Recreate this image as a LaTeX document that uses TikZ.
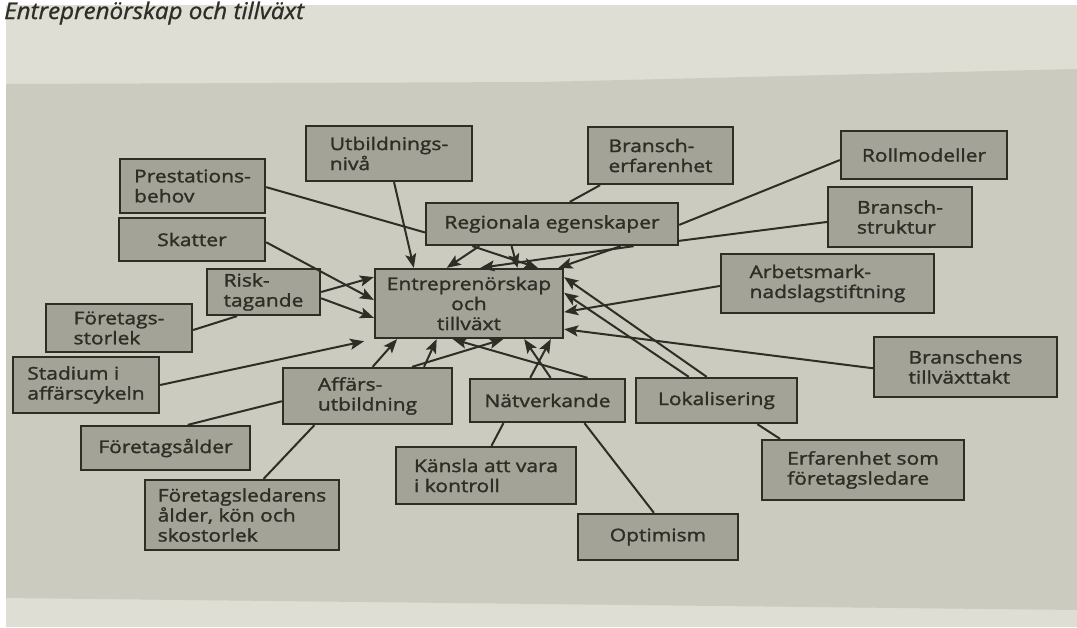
\documentclass[tikz,border=0pt]{standalone}
\usepackage{fontspec}
\setmainfont{Open Sans}
\newfontfamily\boxfont[FakeStretch=1.2,FakeBold=1.6]{Open Sans}
\newfontfamily\headfont[FakeStretch=1.05,FakeBold=1]{Open Sans}
\usetikzlibrary{arrows.meta,calc}

\definecolor{paper}{HTML}{DFDED5}
\definecolor{panel}{HTML}{CCCBC0}
\definecolor{boxfill}{HTML}{A4A398}
\definecolor{ink}{HTML}{2E2E27}

\tikzset{
  box/.style={draw=ink, line width=2.3pt, fill=boxfill, text=ink,
    font=\boxfont\fontsize{17.5}{20}\selectfont, align=left, inner sep=0pt},
  cbox/.style={box, align=center},
  link/.style={draw=ink, line width=2pt},
  arr/.style={link, -{Stealth[length=14pt,width=11pt,inset=3pt]}},
}

\begin{document}
\begin{tikzpicture}[x=1pt,y=-1pt]
\useasboundingbox (0,0) rectangle (1077,627);

% page, photographed sheet and the grey figure panel
\fill[white] (0,0) rectangle (1077,627);
\fill[paper] (6,5) rectangle (1077,627);
\fill[panel] (6,84) -- (540,82) -- (1077,69) -- (1077,610) -- (6,598) -- cycle;

% figure title
\node[anchor=base west, inner sep=0pt, text=ink, font=\headfont\itshape\fontsize{23}{26}\selectfont]
  (title) at (4,19) {Entreprenörskap och tillväxt};

% centre
\node[cbox, minimum width=188pt, minimum height=69pt] (ent) at (469,303.5)
  {Entreprenörskap\\och\\tillväxt};

% upper group
\node[box, minimum width=166pt, minimum height=55pt] (utb)   at (389,153.5)  {Utbildnings-\\nivå};
\node[box, minimum width=145pt, minimum height=54pt] (prest) at (192.5,186)  {Prestations-\\behov};
\node[box, minimum width=146pt, minimum height=43pt] (skatt) at (192,239.5)  {Skatter};
\node[box, minimum width=113pt, minimum height=46pt] (risk)  at (263.5,292)  {Risk-\\tagande};
\node[cbox, minimum width=252pt, minimum height=42pt] (reg)  at (552,224)    {Regionala egenskaper};
\node[box, minimum width=145pt, minimum height=57pt] (berf)  at (660.5,155.5) {Bransch-\\erfarenhet};
\node[cbox, minimum width=166pt, minimum height=48pt] (roll) at (924,155)    {Rollmodeller};
\node[box, minimum width=144pt, minimum height=60pt] (bstr)  at (900,217)    {Bransch-\\struktur};
\node[box, minimum width=213pt, minimum height=59pt] (arb)   at (827.5,283.5) {Arbetsmark-\\nadslagstiftning};

% left and lower group
\node[box, minimum width=146pt, minimum height=48pt] (fstor) at (119,328)    {Företags-\\storlek};
\node[box, minimum width=146pt, minimum height=56pt] (stad)  at (86,385)     {Stadium i\\affärscykeln};
\node[box, minimum width=169pt, minimum height=56pt] (aff)   at (367.5,396)  {Affärs-\\utbildning};
\node[cbox, minimum width=169pt, minimum height=44pt] (falder) at (165.5,448) {Företagsålder};
\node[box, minimum width=194pt, minimum height=70pt] (fled)  at (242,515)    {Företagsledarens\\ålder, kön och\\skostorlek};
\node[cbox, minimum width=155pt, minimum height=43pt] (nat)  at (547.5,400.5) {Nätverkande};
\node[box, minimum width=180pt, minimum height=57pt] (kans)  at (486,475.5)  {Känsla att vara\\i kontroll};
\node[cbox, minimum width=161pt, minimum height=45pt] (lok)  at (716.5,400.5) {Lokalisering};
\node[cbox, minimum width=160pt, minimum height=46pt] (opt)  at (658,537)    {Optimism};
\node[box, minimum width=202pt, minimum height=60pt] (erf)   at (863,470)    {Erfarenhet som\\företagsledare};
\node[box, minimum width=183pt, minimum height=60pt] (btill) at (965.5,367)  {Branschens\\tillväxttakt};

% factors feeding the regional properties
\draw[link] ($(prest.north east)!0.52!(prest.south east)$) -- ($(reg.north west)!0.69!(reg.south west)$);
\draw[link] ($(berf.south west)!0.09!(berf.south east)$) -- ($(reg.north west)!0.57!(reg.north east)$);
\draw[link] ($(roll.north west)!0.6!(roll.south west)$) -- ($(reg.north east)!0.52!(reg.south east)$);
\draw[link] ($(bstr.north west)!0.58!(bstr.south west)$) -- ($(reg.north east)!0.88!(reg.south east)$);

% arrows into the top of the centre box
\draw[arr] ($(utb.south west)!0.53!(utb.south east)$) -- ($(ent.north west)!0.21!(ent.north east)$);
\draw[arr] ($(reg.south west)!0.214!(reg.south east)$) -- ($(ent.north west)!0.383!(ent.north east)$);
\draw[arr] ($(reg.south west)!0.341!(reg.south east)$) -- ($(ent.north west)!0.755!(ent.north east)$);
\draw[arr] ($(reg.south west)!0.187!(reg.south east)$) -- ($(ent.north west)!0.862!(ent.north east)$);
\draw[arr] ($(reg.south west)!0.821!(reg.south east)$) -- ($(ent.north west)!0.56!(ent.north east)$);
\draw[arr] ($(reg.south west)!0.77!(reg.south east)$) -- ($(ent.north west)!0.97!(ent.north east)$);

% arrows into the left side
\draw[arr] ($(skatt.north east)!0.56!(skatt.south east)$) -- ($(ent.north west)!0.45!(ent.south west)$);
\draw[arr] ($(risk.north east)!0.5!(risk.south east)$) -- ($(ent.north west)!0.13!(ent.south west)$);
\draw[arr] ($(risk.north east)!0.63!(risk.south east)$) -- ($(ent.north west)!0.70!(ent.south west)$);
\draw[link] ($(fstor.north east)!0.54!(fstor.south east)$) -- ($(risk.south west)!0.27!(risk.south east)$);
\draw[arr, shorten >=10pt] ($(stad.north east)!0.5!(stad.south east)$) -- (ent.south west);

% arrows into the bottom
\draw[arr] ($(aff.north west)!0.53!(aff.north east)$) -- ($(ent.south west)!0.122!(ent.south east)$);
\draw[arr] ($(aff.north west)!0.83!(aff.north east)$) -- ($(ent.south west)!0.33!(ent.south east)$);
\draw[arr] ($(aff.north west)!0.76!(aff.north east)$) -- ($(ent.south west)!0.68!(ent.south east)$);
\draw[arr] ($(nat.north west)!0.755!(nat.north east)$) -- ($(ent.south west)!0.415!(ent.south east)$);
\draw[arr] ($(nat.north west)!0.52!(nat.north east)$) -- ($(ent.south west)!0.79!(ent.south east)$);
\draw[arr] ($(nat.north west)!0.39!(nat.north east)$) -- ($(ent.south west)!0.93!(ent.south east)$);
\draw[link] ($(falder.north west)!0.63!(falder.north east)$) -- ($(aff.north west)!0.59!(aff.south west)$);
\draw[link] ($(fled.north west)!0.61!(fled.north east)$) -- ($(aff.south west)!0.19!(aff.south east)$);
\draw[link] ($(kans.north west)!0.53!(kans.north east)$) -- ($(nat.south west)!0.22!(nat.south east)$);
\draw[link] ($(opt.north west)!0.475!(opt.north east)$) -- ($(nat.south west)!0.735!(nat.south east)$);

% arrows into the right side
\draw[arr] ($(lok.north west)!0.44!(lok.north east)$) -- ($(ent.north east)!0.13!(ent.south east)$);
\draw[arr] ($(lok.north west)!0.33!(lok.north east)$) -- ($(ent.north east)!0.35!(ent.south east)$);
\draw[arr] ($(arb.north west)!0.54!(arb.south west)$) -- ($(ent.north east)!0.62!(ent.south east)$);
\draw[arr] ($(btill.north west)!0.52!(btill.south west)$) -- ($(ent.north east)!0.86!(ent.south east)$);
\draw[link] ($(erf.north west)!0.094!(erf.north east)$) -- ($(lok.south west)!0.75!(lok.south east)$);
\end{tikzpicture}
\end{document}
